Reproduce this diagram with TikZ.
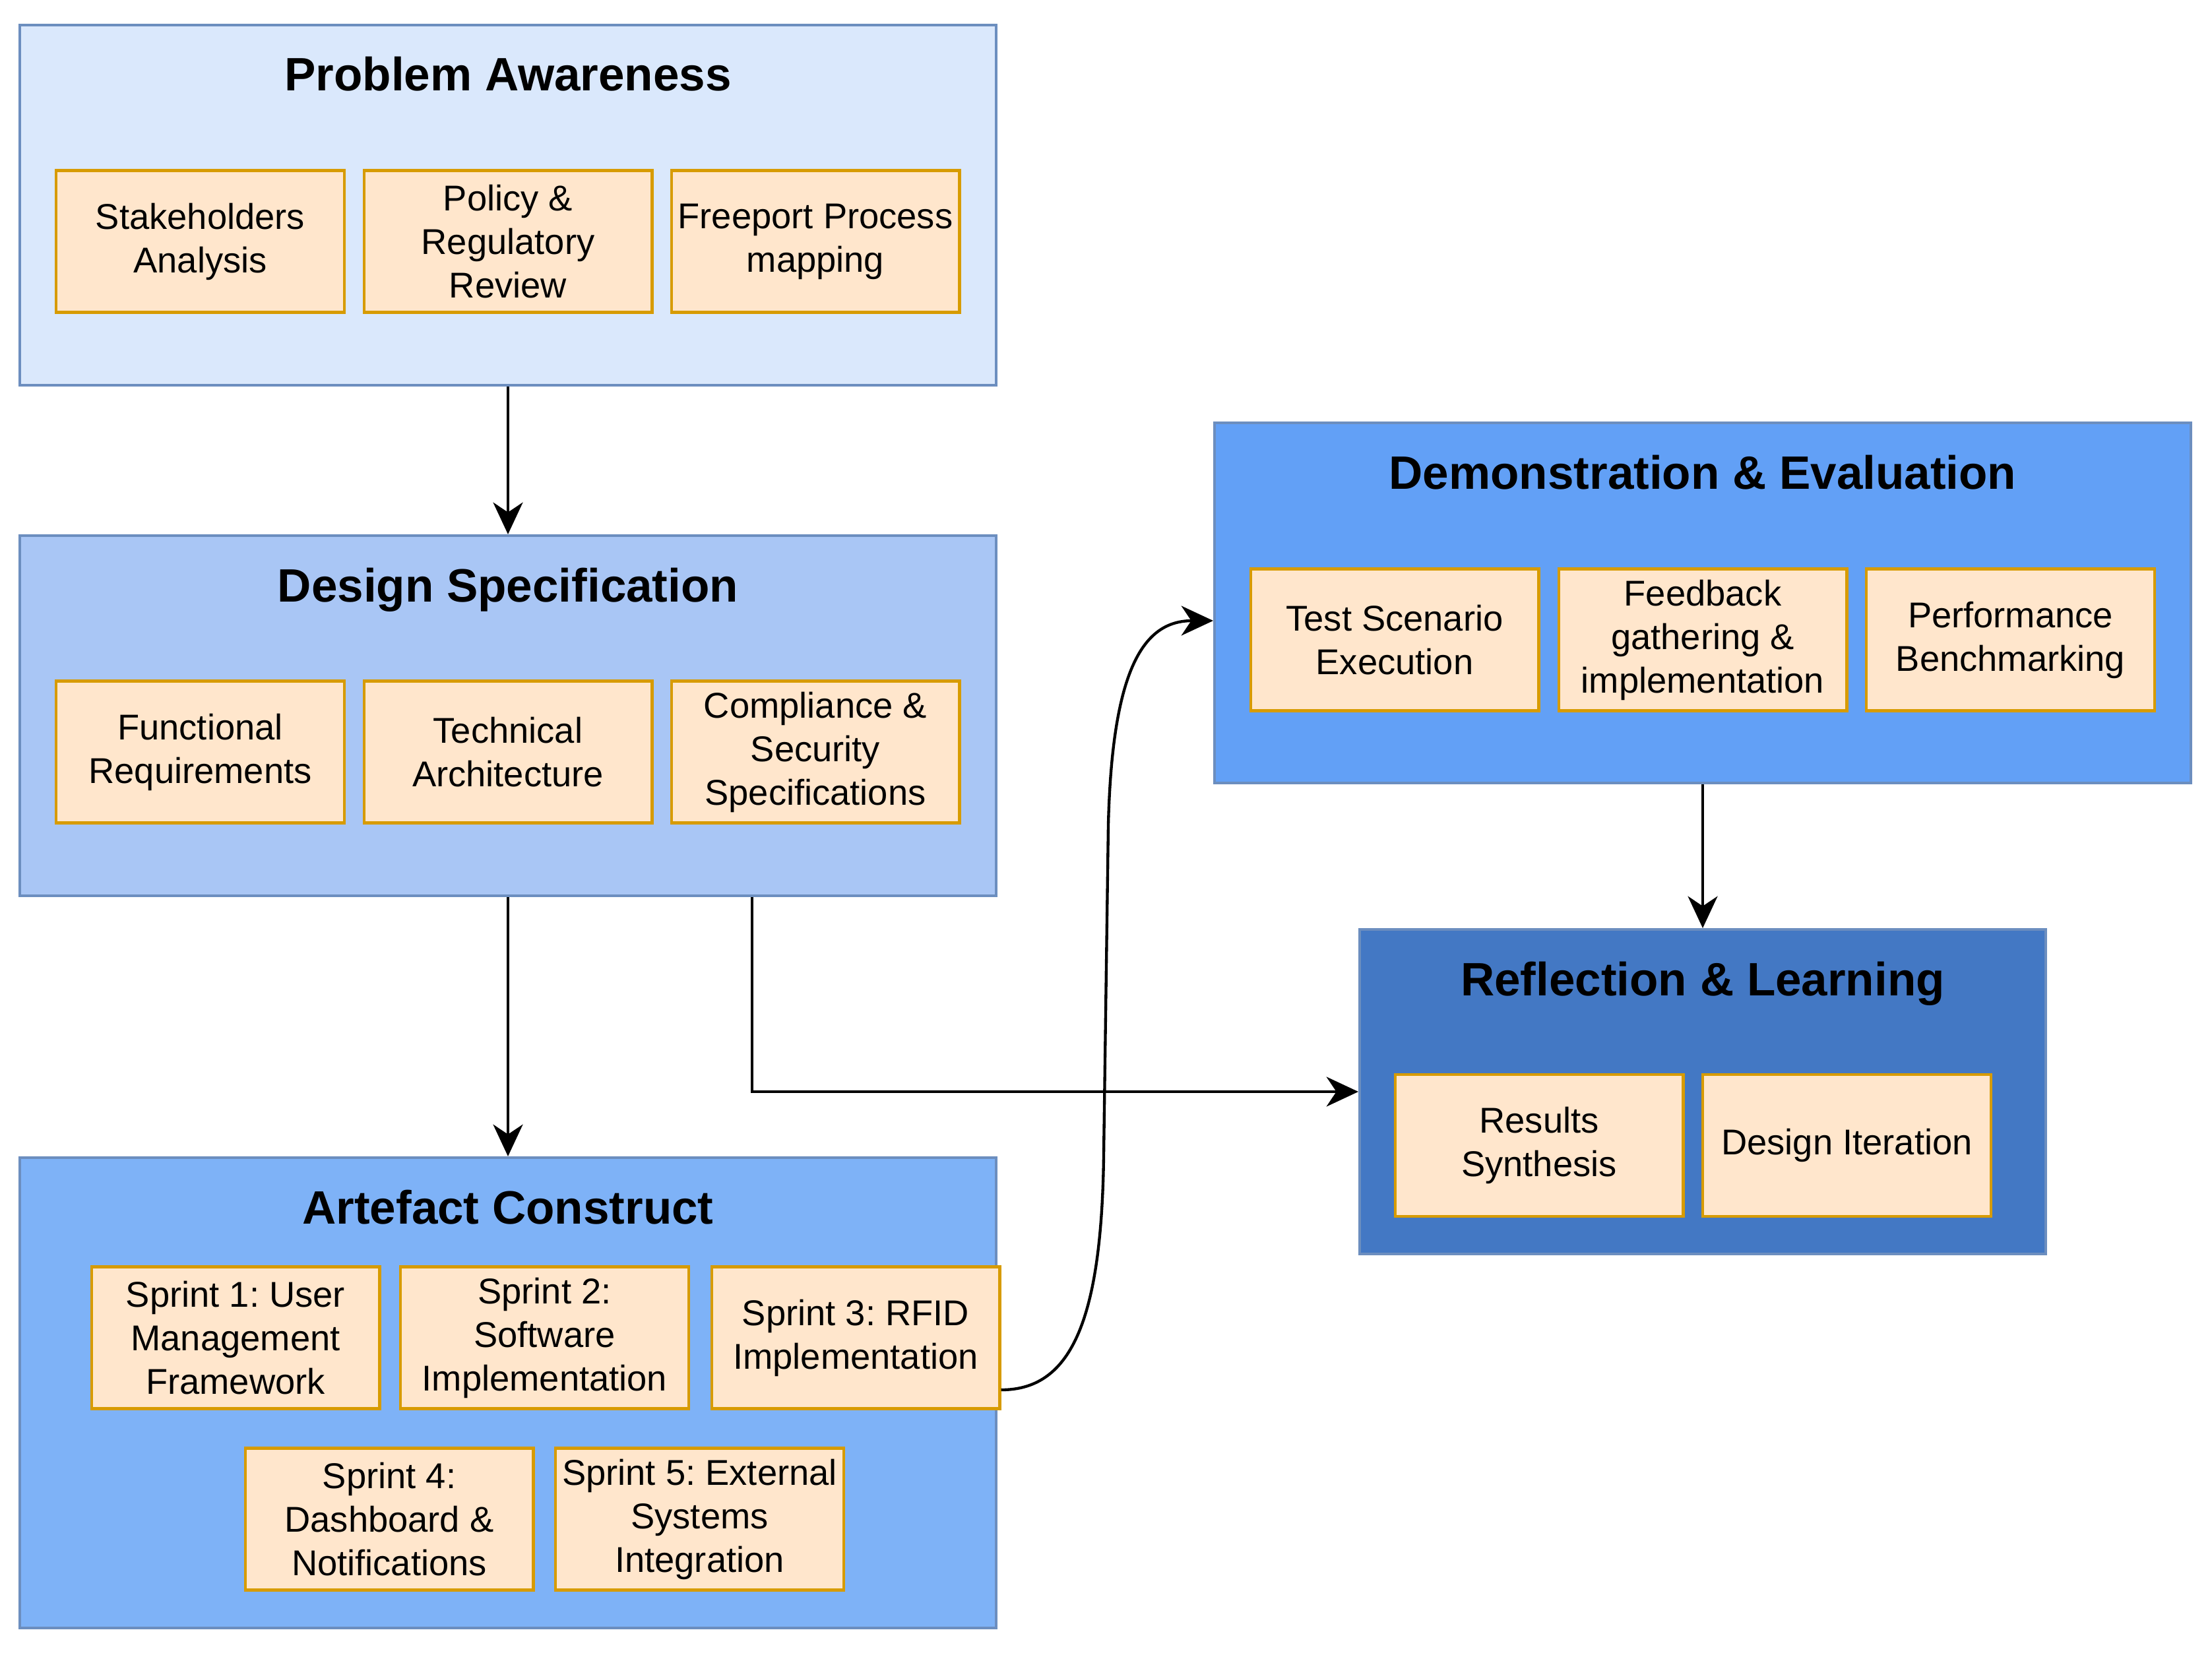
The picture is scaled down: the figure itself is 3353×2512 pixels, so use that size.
\documentclass[tikz,border=0pt]{standalone}
\usepackage{fontspec}
\setmainfont{Liberation Sans}
\usetikzlibrary{arrows.meta}
\definecolor{paFill}{HTML}{DAE8FC}
\definecolor{dsFill}{HTML}{A9C6F5}
\definecolor{acFill}{HTML}{7EB2F7}
\definecolor{deFill}{HTML}{62A0F6}
\definecolor{rlFill}{HTML}{4378C4}
\definecolor{boxStroke}{HTML}{6C8EBF}
\definecolor{subFill}{HTML}{FFE6CC}
\definecolor{subStroke}{HTML}{D79B00}
\frenchspacing
\begin{document}
\begin{tikzpicture}[x=0.3pt,y=-0.3pt,
  phase/.style={draw=boxStroke, line width=1.2pt, inner sep=0pt, minimum width=444pt, minimum height=163.8pt},
  subbox/.style={draw=subStroke, fill=subFill, line width=1.3pt, inner sep=0pt,
    minimum width=131pt, minimum height=64.5pt, align=center,
    font=\fontsize{16.3}{19.8}\selectfont},
  phasetitle/.style={font=\fontsize{21.3}{25}\selectfont\bfseries, inner sep=0pt, anchor=base},
  conn/.style={line width=1.3pt, -{Stealth[length=14.5pt,width=13.5pt,inset=4.5pt]}}
]
\useasboundingbox (0,0) rectangle (3353,2512);

% phases
\node[phase, fill=paFill] (pa) at (770,311) {};
\node[phase, fill=dsFill] (ds) at (770,1085) {};
\node[phase, fill=acFill, minimum height=213.9pt] (ac) at (770,2111.5) {};
\node[phase, fill=deFill] (de) at (2581,914) {};
\node[phase, fill=rlFill, minimum width=312pt, minimum height=147.6pt] (rl) at (2581,1655) {};

% titles
\node[phasetitle] (paT) at (770,138) {Problem Awareness};
\node[phasetitle] (dsT) at (770,912) {Design Specification};
\node[phasetitle] (acT) at (770,1855) {Artefact Construct};
\node[phasetitle] (deT) at (2581,741) {Demonstration \& Evaluation};
\node[phasetitle] (rlT) at (2581,1509) {Reflection \& Learning};

% problem awareness
\node[subbox] (pa1) at (303.5,366) {Stakeholders\\Analysis};
\node[subbox] (pa2) at (770,366) {Policy \&\\Regulatory\\Review};
\node[subbox] (pa3) at (1236,366) {Freeport Process\\mapping};

% design specification
\node[subbox] (ds1) at (303.5,1140) {Functional\\Requirements};
\node[subbox] (ds2) at (770,1140) {Technical\\Architecture};
\node[subbox] (ds3) at (1236,1140) {Compliance \&\\Security\\Specifications};

% artefact construct
\node[subbox] (s1) at (357,2028) {Sprint 1: User\\Management\\Framework};
\node[subbox] (s2) at (825.5,2028) {Sprint 2:\\Software\\Implementation};
\node[subbox] (s3) at (1297,2028) {Sprint 3: RFID\\Implementation};
\node[subbox] (s4) at (590,2303) {Sprint 4:\\Dashboard \&\\Notifications};
\node[subbox] (s5) at (1060.5,2303) {Sprint 5: External\\Systems\\Integration};

% demonstration & evaluation
\node[subbox] (de1) at (2114,970) {Test Scenario\\Execution};
\node[subbox] (de2) at (2581,970) {Feedback\\gathering \&\\implementation};
\node[subbox] (de3) at (3047.5,970) {Performance\\Benchmarking};

% reflection & learning
\node[subbox] (rl1) at (2333,1736.5) {Results\\Synthesis};
\node[subbox] (rl2) at (2799.5,1736.5) {Design Iteration};

% connectors
\draw[conn] (pa.south) -- (ds.north);
\draw[conn] (ds.south) -- (ac.north);
\draw[conn] ([xshift=111pt]ds.south) |- (rl.west);
\draw[conn] (de.south) -- (rl.north);
\coordinate (cs) at ([yshift=-23.7pt]s3.east);
\coordinate (ce) at ([yshift=-8.1pt]de.west);
\draw[conn] (cs) .. controls (1620,2107) and (1670,2010) .. (1673,1750)
  -- (1680,1250) .. controls (1686,1010) and (1735,941) .. (ce);
\end{tikzpicture}
\end{document}
